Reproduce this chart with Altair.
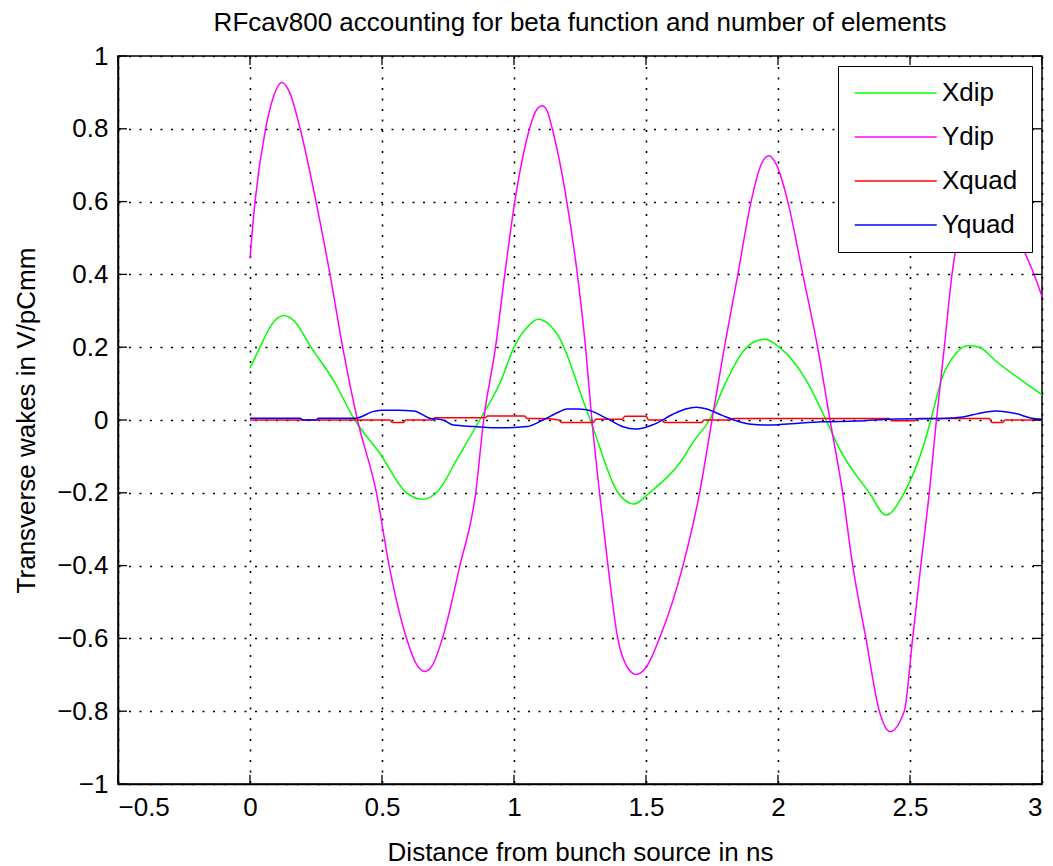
import altair as alt
import pandas as pd

# ---------------- data ----------------
series_names = ["Xdip", "Ydip", "Xquad", "Yquad"]
series_colors = ["#00ff00", "#ff00ff", "#ff0000", "#0000ff"]

xdip_x = [0.00, 0.038, 0.08, 0.126, 0.17, 0.231, 0.315, 0.397, 0.492, 0.593, 0.656, 0.706,
          0.79, 0.87, 0.952, 1.00, 1.05, 1.091, 1.173, 1.261, 1.294, 1.394, 1.454, 1.513,
          1.627, 1.684, 1.74, 1.80, 1.87, 1.91, 1.949, 2.005, 2.106, 2.182, 2.232, 2.346, 2.409,
          2.478, 2.554, 2.577, 2.623, 2.674, 2.718, 2.762, 2.825, 2.92, 3.00]
xdip_y = [0.142, 0.20, 0.26, 0.287, 0.27, 0.20, 0.11, 0.00, -0.092, -0.20, -0.218, -0.20,
          -0.10, 0.00, 0.11, 0.20, 0.255, 0.277, 0.224, 0.055, -0.01, -0.20, -0.231, -0.20,
          -0.119, -0.055, 0.00, 0.10, 0.19, 0.215, 0.222, 0.20, 0.11, 0.00, -0.078, -0.20, -0.261,
          -0.20, -0.064, -0.005, 0.119, 0.183, 0.204, 0.20, 0.162, 0.11, 0.069]

ydip_x = [0.00, 0.019, 0.059, 0.09, 0.12, 0.15, 0.19, 0.25, 0.303, 0.351, 0.407, 0.479,
          0.527, 0.593, 0.63, 0.662, 0.69, 0.729, 0.795, 0.855, 0.885, 0.93, 0.965, 1.003,
          1.059, 1.08, 1.106, 1.125, 1.145, 1.20, 1.24, 1.271, 1.295, 1.324, 1.356, 1.393,
          1.43, 1.463, 1.50, 1.551, 1.64, 1.703, 1.75, 1.797, 1.848, 1.898, 1.935, 1.965,
          1.995, 2.037, 2.094, 2.15, 2.197, 2.245, 2.283, 2.333, 2.384, 2.424, 2.478, 2.51,
          2.541, 2.573, 2.60, 2.63, 2.659, 2.70, 2.75, 2.80, 2.85, 2.90, 2.939, 2.97, 3.00]
ydip_y = [0.444, 0.60, 0.80, 0.89, 0.927, 0.90, 0.80, 0.60, 0.40, 0.20, 0.00, -0.20,
          -0.40, -0.60, -0.67, -0.691, -0.675, -0.60, -0.40, -0.20, 0.00, 0.20, 0.40, 0.60,
          0.80, 0.845, 0.863, 0.85, 0.80, 0.60, 0.40, 0.20, 0.00, -0.20, -0.40, -0.60,
          -0.68, -0.699, -0.68, -0.60, -0.40, -0.20, 0.00, 0.20, 0.40, 0.60, 0.70, 0.726,
          0.70, 0.60, 0.40, 0.20, 0.00, -0.20, -0.40, -0.60, -0.80, -0.856, -0.80, -0.60,
          -0.40, -0.20, 0.00, 0.20, 0.40, 0.56, 0.63, 0.65, 0.61, 0.52, 0.453, 0.40, 0.339]

xquad_x = [0.00, 0.53, 0.54, 0.58, 0.59, 0.69, 0.70, 0.89, 0.90, 1.04, 1.05, 1.10, 1.17,
           1.18, 1.30, 1.31, 1.41, 1.42, 1.50, 1.51, 1.56, 1.57, 1.71, 1.72, 1.82, 1.83,
           2.42, 2.43, 2.52, 2.53, 2.80, 2.81, 2.85, 2.86, 3.00]
xquad_y = [0.000, 0.000, -0.007, -0.007, 0.000, 0.000, 0.006, 0.006, 0.011, 0.011, 0.004,
           0.004, 0.000, -0.007, -0.007, 0.002, 0.002, 0.010, 0.010, 0.000, 0.000, -0.007,
           -0.007, 0.000, 0.000, 0.004, 0.004, -0.002, -0.002, 0.004, 0.004, -0.007, -0.007,
           0.000, 0.000]

yquad_x = [0.00, 0.19, 0.20, 0.25, 0.26, 0.40, 0.466, 0.50, 0.56, 0.62, 0.68, 0.73, 0.77,
           0.85, 0.92, 0.98, 1.05, 1.11, 1.17, 1.20, 1.24, 1.275, 1.35, 1.41, 1.463, 1.53,
           1.60, 1.65, 1.69, 1.73, 1.79, 1.854, 1.90, 1.955, 2.05, 2.17, 2.30, 2.45, 2.62,
           2.70, 2.76, 2.825, 2.90, 2.96, 3.00]
yquad_y = [0.005, 0.005, 0.000, 0.000, 0.005, 0.005, 0.023, 0.027, 0.027, 0.025, 0.005,
           0.000, -0.014, -0.018, -0.021, -0.021, -0.018, 0.000, 0.022, 0.030, 0.030, 0.028,
           0.005, -0.018, -0.025, -0.012, 0.015, 0.030, 0.035, 0.030, 0.012, -0.005, -0.012,
           -0.014, -0.010, -0.005, -0.003, 0.003, 0.004, 0.008, 0.018, 0.025, 0.018, 0.005,
           0.002]

x_ticks = [-0.5, 0, 0.5, 1, 1.5, 2, 2.5, 3]
y_ticks = [-1, -0.8, -0.6, -0.4, -0.2, 0, 0.2, 0.4, 0.6, 0.8, 1]

title_text = "RFcav800 accounting for beta function and number of elements"
x_title = "Distance from bunch source in ns"
y_title = "Transverse wakes in V/pCmm"

# ---------------- build tables ----------------
rows = []
for name, xs, ys in [("Xdip", xdip_x, xdip_y), ("Ydip", ydip_x, ydip_y),
                     ("Xquad", xquad_x, xquad_y), ("Yquad", yquad_x, yquad_y)]:
    for i, (a, b) in enumerate(zip(xs, ys)):
        rows.append({"series": name, "t": a, "w": b, "i": i})
df = pd.DataFrame(rows)
xt = pd.DataFrame({"v": x_ticks})
yt = pd.DataFrame({"v": y_ticks})

FONT = "Liberation Sans"
FS = 26
W, H = 924, 728
TL = 9

xscale = alt.Scale(domain=[-0.5, 3], nice=False, zero=False)
yscale = alt.Scale(domain=[-1, 1], nice=False, zero=False)

lines = alt.Chart(df).mark_line(strokeWidth=1.5, interpolate="monotone").encode(
    x=alt.X("t:Q", scale=xscale,
            axis=alt.Axis(values=x_ticks, format="~g", title=x_title, grid=True,
                          gridDash=[2, 8.5], gridColor="black", gridWidth=1.6,
                          ticks=False, labelPadding=10, titlePadding=19)),
    y=alt.Y("w:Q", scale=yscale,
            axis=alt.Axis(values=y_ticks, format="~g", title=y_title, grid=True,
                          gridDash=[2, 8.5], gridColor="black", gridWidth=1.6,
                          ticks=False, labelPadding=10, titlePadding=17)),
    color=alt.Color("series:N",
                    scale=alt.Scale(domain=series_names, range=series_colors),
                    sort=series_names,
                    legend=alt.Legend(title=None, orient="none", legendX=720, legendY=10,
                                      fillColor="white", strokeColor="black", padding=14,
                                      symbolType="M-1,0H7", symbolSize=420,
                                      symbolStrokeWidth=1.5, labelFont=FONT,
                                      labelFontSize=FS, labelColor="black",
                                      labelOffset=64, rowPadding=18)),
    order="i:Q",
    detail="series:N",
)

tick_style = dict(color="black", strokeWidth=1.3)
bottom_ticks = alt.Chart(xt).mark_rule(**tick_style).encode(
    x=alt.X("v:Q", scale=xscale), y=alt.value(H), y2=alt.value(H - TL))
top_ticks = alt.Chart(xt).mark_rule(**tick_style).encode(
    x=alt.X("v:Q", scale=xscale), y=alt.value(0), y2=alt.value(TL))
left_ticks = alt.Chart(yt).mark_rule(**tick_style).encode(
    y=alt.Y("v:Q", scale=yscale), x=alt.value(0), x2=alt.value(TL))
right_ticks = alt.Chart(yt).mark_rule(**tick_style).encode(
    y=alt.Y("v:Q", scale=yscale), x=alt.value(W - TL), x2=alt.value(W))

chart = alt.layer(lines, bottom_ticks, top_ticks, left_ticks, right_ticks).properties(
    width=W, height=H,
    title=alt.TitleParams(title_text, font=FONT, fontSize=FS, fontWeight="normal",
                          color="black", offset=7, anchor="middle"),
    autosize=alt.AutoSizeParams(type="none"),
    padding={"left": 118, "top": 56, "right": 11, "bottom": 82},
    background="white",
).configure_view(stroke="black", strokeWidth=1.5).configure_axis(
    labelFont=FONT, labelFontSize=FS, labelColor="black",
    titleFont=FONT, titleFontSize=FS, titleFontWeight="normal", titleColor="black",
    domainColor="black", domainWidth=1.5,
)

chart.save("out.html", embed_options={"renderer": "svg", "actions": False})
